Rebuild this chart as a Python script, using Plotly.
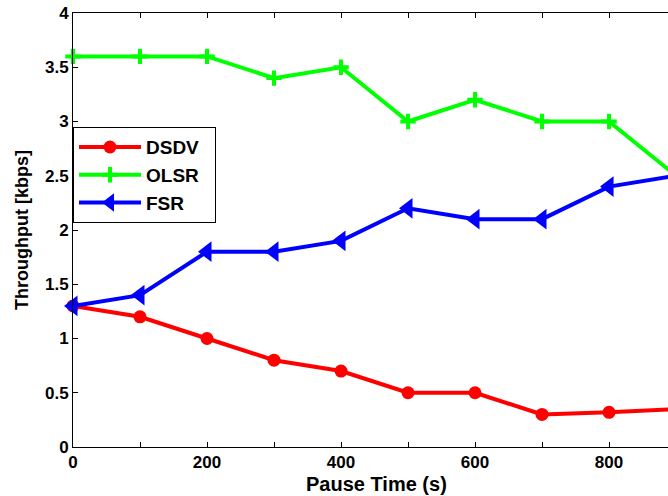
import plotly.graph_objects as go

pause_time = [0, 100, 200, 300, 400, 500, 600, 700, 800, 900]
dsdv = [1.3, 1.2, 1.0, 0.8, 0.7, 0.5, 0.5, 0.3, 0.32, 0.35]
olsr = [3.6, 3.6, 3.6, 3.4, 3.5, 3.0, 3.2, 3.0, 3.0, 2.5]
fsr = [1.3, 1.4, 1.8, 1.8, 1.9, 2.2, 2.1, 2.1, 2.4, 2.5]

x_tickvals = [0, 100, 200, 300, 400, 500, 600, 700, 800]
x_ticktext = ["0", "", "200", "", "400", "", "600", "", "800"]
y_tickvals = [0, 0.5, 1, 1.5, 2, 2.5, 3, 3.5, 4]
y_ticktext = ["0", "0.5", "1", "1.5", "2", "2.5", "3", "3.5", "4"]

FONT = "Arial, Liberation Sans, Helvetica, sans-serif"
PAD = "\u00a0\u00a0"

fig = go.Figure()
fig.add_trace(go.Scatter(x=pause_time, y=dsdv, name="DSDV" + PAD, mode="lines+markers",
                         line=dict(color="#ff0000", width=4),
                         marker=dict(symbol="circle", size=13, color="#ff0000"),
                         cliponaxis=False))
fig.add_trace(go.Scatter(x=pause_time, y=olsr, name="OLSR" + PAD, mode="lines+markers",
                         line=dict(color="#00ff00", width=4),
                         marker=dict(symbol="cross-thin", size=11,
                                     line=dict(color="#00ff00", width=4), color="#00ff00"),
                         cliponaxis=False))
fig.add_trace(go.Scatter(x=pause_time, y=fsr, name="FSR" + PAD, mode="lines+markers",
                         line=dict(color="#0000ff", width=4),
                         marker=dict(symbol="triangle-left", size=18, color="#0000ff"),
                         cliponaxis=False))

fig.update_layout(
    width=668, height=496,
    margin=dict(l=73, r=0, t=13, b=49),
    paper_bgcolor="white", plot_bgcolor="white",
    font=dict(family=FONT, color="black"),
    showlegend=True,
    legend=dict(x=0.0, y=0.737, xanchor="left", yanchor="top",
                bordercolor="black", borderwidth=1, bgcolor="white",
                font=dict(family=FONT, size=19, weight="bold", color="black"),
                itemwidth=62, tracegroupgap=0),
    xaxis=dict(range=[0, 888], tickvals=x_tickvals, ticktext=x_ticktext,
               ticks="inside", ticklen=5, tickcolor="black",
               showline=True, linecolor="black", linewidth=1, mirror="ticks",
               showgrid=False, zeroline=False,
               tickfont=dict(family=FONT, size=17, weight="bold", color="black")),
    yaxis=dict(range=[0, 4], tickvals=y_tickvals, ticktext=y_ticktext,
               ticks="inside", ticklen=5, tickcolor="black",
               showline=True, linecolor="black", linewidth=1,
               showgrid=False, zeroline=False,
               tickfont=dict(family=FONT, size=17, weight="bold", color="black")),
    annotations=[
        dict(text="Pause Time (s)", xref="paper", yref="paper", x=0.51, y=0,
             yshift=-24, xanchor="center", yanchor="top", showarrow=False,
             font=dict(family=FONT, size=20, weight="bold", color="black")),
        dict(text="Throughput [kbps]", xref="paper", yref="paper", x=0, y=0.5,
             xshift=-51, xanchor="center", yanchor="middle", showarrow=False,
             textangle=-90,
             font=dict(family=FONT, size=18, weight="bold", color="black")),
    ],
)

fig.write_html("out.html", config={"displayModeBar": False},
               post_script="document.body.style.margin='0';document.body.style.overflow='hidden';")
